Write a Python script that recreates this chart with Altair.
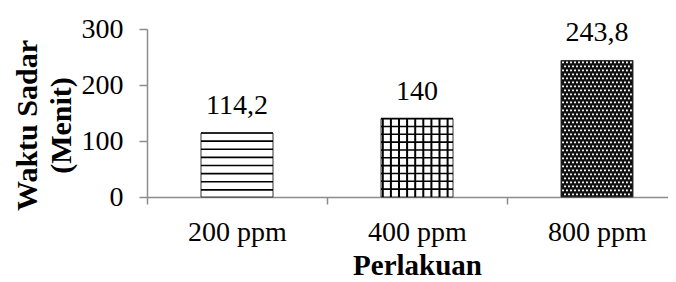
import altair as alt
import pandas as pd

# ---- data ----
categories = ["200 ppm", "400 ppm", "800 ppm"]
values = [114.2, 140, 243.8]
value_labels = ["114,2", "140", "243,8"]
y_ticks = [0, 100, 200, 300]

FONT = "Liberation Serif"
AXIS_GRAY = "#8c8c8c"

bars_df = pd.DataFrame({"cat": categories, "val": values, "lab": value_labels})

# ---- texture data (decoration derived from the values) ----
half = 0.2  # half bar width in category units (bar = 40% of band)
h_rows = []
for i, step in [(0, 14.5), (1, 14.0)]:
    y = values[i]
    while y > 4:
        h_rows.append({"x1": i + 0.5 - half, "x2": i + 0.5 + half, "val": y})
        y -= step
h_df = pd.DataFrame(h_rows)

v_rows = []
for k in range(9):
    v_rows.append({"x": 1 + 0.5 - half + 0.01 + k * 0.045, "y1": 0, "val": values[1]})
v_df = pd.DataFrame(v_rows)

d_rows = []
ystep = 7.14
xstep = 0.0222
r = 0
y = values[2] - 3.5
while y > 1.5:
    x = 2 + 0.5 - half + xstep / 2 + (r % 2) * xstep / 2
    while x < 2 + 0.5 + half - 0.005:
        d_rows.append({"x": x, "val": y})
        x += xstep
    y -= ystep
    r += 1
d_df = pd.DataFrame(d_rows)

yscale = alt.Scale(domain=[0, 300], nice=False)
qx = alt.Scale(domain=[0, 3], range=[0, 540], nice=False, zero=False)
band = alt.Scale(range=[0, 540], paddingInner=0, paddingOuter=0)

x_axis = alt.Axis(
    title="Perlakuan",
    titleFont=FONT, titleFontSize=29, titleFontWeight="bold", titleColor="black",
    titleX=270, titleY=77, titleBaseline="alphabetic", titleAlign="center",
    labelFont=FONT, labelFontSize=28, labelColor="black", labelAngle=0,
    labelPadding=14, tickBand="extent", tickSize=7, tickColor=AXIS_GRAY,
    tickWidth=1.5, domainColor=AXIS_GRAY, domainWidth=1.5, grid=False,
)
y_axis = alt.Axis(
    values=y_ticks,
    title=["Waktu Sadar", "(Menit)"],
    titleFont=FONT, titleFontSize=30, titleFontWeight="bold", titleColor="black",
    titleAngle=270, titleX=-111, titleY=96, titleAlign="center",
    titleBaseline="alphabetic", titleLineHeight=34,
    labelFont=FONT, labelFontSize=28, labelColor="black", labelPadding=16,
    tickSize=8, tickColor=AXIS_GRAY, tickWidth=1.5,
    domainColor=AXIS_GRAY, domainWidth=1.5, grid=False,
)

def Y(field):
    return alt.Y(field, scale=yscale, axis=y_axis)

bars = alt.Chart(bars_df).mark_bar(
    width=alt.RelativeBandSize(0.4), stroke="#333333", strokeWidth=1
).encode(
    x=alt.X("cat:N", sort=categories, scale=band, axis=x_axis),
    y=Y("val:Q"),
    fill=alt.Fill("cat:N", scale=alt.Scale(domain=categories, range=["white", "white", "#111111"]), legend=None),
)

labels = alt.Chart(bars_df).mark_text(
    dy=-19, baseline="alphabetic", fontSize=28, font=FONT, color="black"
).encode(
    x=alt.X("cat:N", sort=categories, scale=band, axis=None),
    y=Y("val:Q"),
    text="lab:N",
)

hlines = alt.Chart(h_df).mark_rule(color="black", strokeWidth=1.6).encode(
    x=alt.X("x1:Q", scale=qx, axis=None), x2="x2:Q", y=Y("val:Q")
)
vlines = alt.Chart(v_df).mark_rule(color="black", strokeWidth=2).encode(
    x=alt.X("x:Q", scale=qx, axis=None), y=Y("val:Q"), y2="y1:Q"
)
dots = alt.Chart(d_df).mark_square(color="white", size=3.5, opacity=1, filled=True).encode(
    x=alt.X("x:Q", scale=qx, axis=None), y=Y("val:Q")
)

chart = alt.layer(bars, labels, hlines, vlines, dots).resolve_scale(
    x="independent"
).properties(
    width=521, height=168, autosize="none",
    padding={"left": 139, "top": 21, "right": 0, "bottom": 85},
).configure_view(stroke=None)

chart.save("out.html", embed_options={"renderer": "svg", "actions": False})
